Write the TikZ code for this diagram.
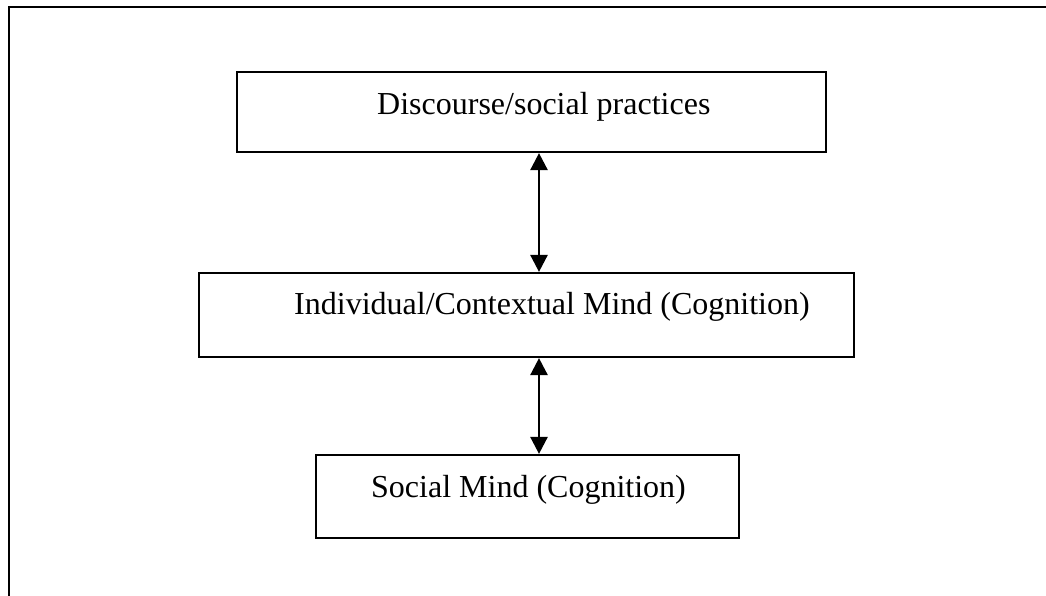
\documentclass[tikz,border=0pt]{standalone}
\usepackage{fontspec}
\setmainfont{Liberation Serif}
\usetikzlibrary{arrows.meta}
\begin{document}
\begin{tikzpicture}[x=1pt,y=-1pt,
  framebox/.style={draw=black,line width=2.2pt,rectangle,inner sep=0pt},
  lbl/.style={inner sep=0pt,anchor=base west,font=\fontsize{32}{38}\selectfont},
  dbl/.style={line width=2.6pt,{Triangle[width=17pt,length=17pt]}-{Triangle[width=17pt,length=17pt]}}]
  \useasboundingbox (0,0) rectangle (1046,596);
  % outer frame, open to the right and bottom
  \draw[line width=2.8pt,line cap=rect] (9,600) -- (9,7) -- (1050,7);
  % boxes
  \node[framebox,minimum width=589pt,minimum height=80pt] (b1) at (531.5,112) {};
  \node[framebox,minimum width=655pt,minimum height=84pt] (b2) at (526.5,315) {};
  \node[framebox,minimum width=423pt,minimum height=83pt] (b3) at (527.5,496.5) {};
  % box texts
  \node[lbl] (t1) at (377,115) {Discourse/social practices};
  \node[lbl] (t2) at (294,314) {Individual/Contextual Mind (Cognition)};
  \node[lbl] (t3) at (371,497) {Social Mind (Cognition)};
  % two-way links
  \coordinate (ax) at (539,0);
  \draw[dbl] (b1.south -| ax) -- (b2.north -| ax);
  \draw[dbl] (b2.south -| ax) -- (b3.north -| ax);
\end{tikzpicture}
\end{document}
